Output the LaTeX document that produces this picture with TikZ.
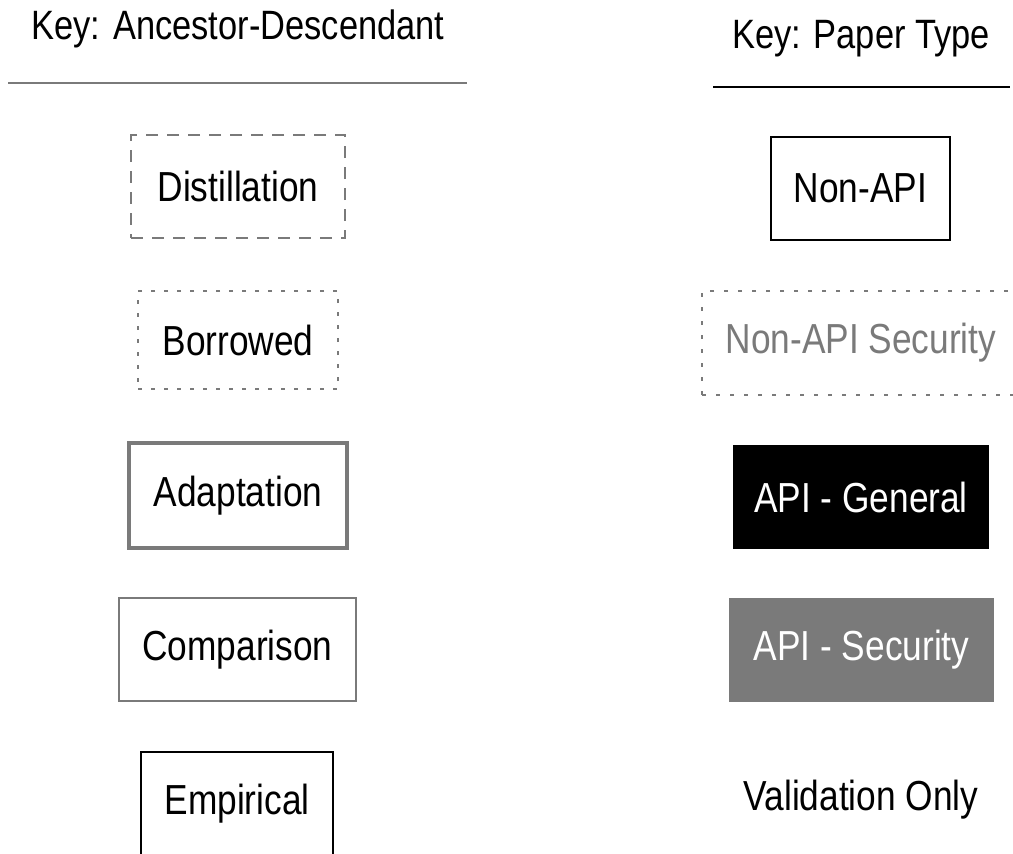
\documentclass[tikz,border=0pt]{standalone}
\usepackage{fontspec}
\setmainfont{Liberation Sans}[FakeStretch=0.84]
\definecolor{keygray}{RGB}{122,122,122}
\begin{document}
\begin{tikzpicture}[x=1pt,y=1pt,
  lbl/.style={font=\fontsize{42}{46}\selectfont, inner sep=0pt},
  ttl/.style={font=\fontsize{41}{45}\selectfont, inner sep=0pt},
  keybox/.style={lbl, minimum width=#1},
  distbox/.style={draw=keygray, line width=2pt, dash pattern=on 12pt off 9pt, minimum height=103pt},
  borrbox/.style={draw=keygray, line width=2pt, dash pattern=on 4pt off 9pt, minimum height=98pt},
  adaptbox/.style={draw=keygray, line width=4pt, minimum height=105pt},
  compbox/.style={draw=keygray, line width=2pt, minimum height=103pt},
  empbox/.style={draw=black, line width=2pt, minimum height=103pt},
  nonapibox/.style={draw=black, line width=1.5pt, minimum height=103pt},
  nonsecbox/.style={draw=keygray, text=keygray, line width=2pt, dash pattern=on 4pt off 10pt, minimum height=104pt},
  apigenbox/.style={fill=black, text=white, minimum height=104pt},
  apisecbox/.style={fill=keygray, text=white, minimum height=104pt}
]
\useasboundingbox (0,0) rectangle (1013,-854);
% titles
\node[ttl] (tleft) at (238,-29) {Key: Ancestor-Descendant};
\node[ttl] (tright) at (861,-39) {Key: Paper Type};
\coordinate (la) at (8,-83);
\coordinate (lb) at (467,-83);
\coordinate (ra) at (713,-87);
\coordinate (rb) at (1010,-87);
\draw[keygray, line width=2pt] (la) -- (lb);
\draw[black, line width=2pt] (ra) -- (rb);
% left column
\node[keybox=214pt, distbox] (dist) at (238,-186.5) {Distillation};
\node[keybox=200pt, borrbox] (borr) at (238,-340) {Borrowed};
\node[keybox=218pt, adaptbox] (adapt) at (238,-495.5) {Adaptation};
\node[keybox=237pt, compbox] (comp) at (237.5,-649.5) {Comparison};
\node[keybox=192pt, empbox] (emp) at (237,-803.5) {Empirical};
% right column
\node[keybox=179pt, nonapibox] (nonapi) at (860.5,-188.5) {Non-API};
\node[keybox=318pt, nonsecbox] (nonsec) at (861,-343) {Non-API Security};
\node[keybox=256pt, apigenbox] (apigen) at (861,-497) {API - General};
\node[keybox=265pt, apisecbox] (apisec) at (861.5,-650) {API - Security};
\node[lbl] (valid) at (861,-800) {Validation Only};
\end{tikzpicture}
\end{document}
